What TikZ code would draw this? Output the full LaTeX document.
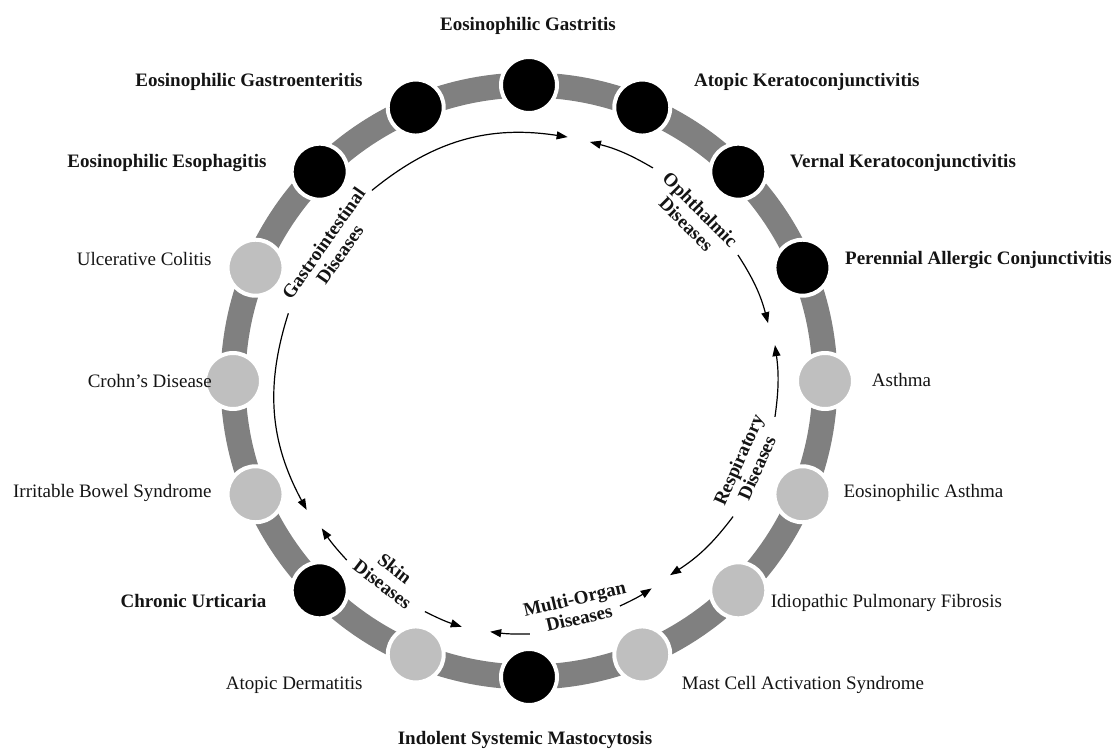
\documentclass[tikz,border=0pt]{standalone}
\usepackage{fontspec}
\setmainfont{Liberation Serif}
\usetikzlibrary{arrows.meta}
\definecolor{ringgray}{RGB}{128,128,128}
\definecolor{dotgray}{RGB}{191,191,191}
\definecolor{txt}{RGB}{20,20,20}
\begin{document}
\begin{tikzpicture}[x=1pt,y=1pt,
  dot/.style={circle,minimum size=56pt,inner sep=0pt,draw=white,line width=4pt},
  darkdot/.style={dot,fill=black},
  lightdot/.style={dot,fill=dotgray},
  lab/.style={inner sep=0pt,text height=12.5pt,text depth=0pt,text=txt,font=\fontsize{19}{20}\selectfont},
  blab/.style={lab,font=\fontsize{19}{20}\selectfont\bfseries},
  cat/.style={inner sep=0pt,align=center,text=txt,font=\fontsize{19}{20}\selectfont\bfseries},
  arr/.style={-{Triangle[length=11pt,width=8pt]},line width=1.2pt}
]
\useasboundingbox (-529,-368) rectangle (588,381);
% ring
\draw[ringgray,line width=25pt] (0,0) circle (296);
% dots
\node[darkdot]  (EG)   at (90:296) {};
\node[darkdot]  (AKC)  at (67.5:296) {};
\node[darkdot]  (VKC)  at (45:296) {};
\node[darkdot]  (PAC)  at (22.5:296) {};
\node[lightdot] (AST)  at (0:296) {};
\node[lightdot] (EA)   at (-22.5:296) {};
\node[lightdot] (IPF)  at (-45:296) {};
\node[lightdot] (MCAS) at (-67.5:296) {};
\node[darkdot]  (ISM)  at (-90:296) {};
\node[lightdot] (AD)   at (-112.5:296) {};
\node[darkdot]  (CU)   at (-135:296) {};
\node[lightdot] (IBS)  at (-157.5:296) {};
\node[lightdot] (CD)   at (180:296) {};
\node[lightdot] (UC)   at (157.5:296) {};
\node[darkdot]  (EOE)  at (135:296) {};
\node[darkdot]  (EGE)  at (112.5:296) {};
% outer labels
\node[blab,anchor=center] (lEG) at (-1,357) {Eosinophilic Gastritis};
\node[blab,anchor=west] (lAKC) at (165,301) {Atopic Keratoconjunctivitis};
\node[blab,anchor=west] (lVKC) at (261,219.3) {Vernal Keratoconjunctivitis};
\node[blab,anchor=west] (lPAC) at (316,122.7) {Perennial Allergic Conjunctivitis};
\node[lab,anchor=west] (lAST) at (342.7,1) {Asthma};
\node[lab,anchor=west] (lEA) at (314.3,-110.7) {Eosinophilic Asthma};
\node[lab,anchor=west] (lIPF) at (241.7,-220.7) {Idiopathic Pulmonary Fibrosis};
\node[lab,anchor=west] (lMCAS) at (152.7,-302.3) {Mast Cell Activation Syndrome};
\node[blab,anchor=center] (lISM) at (-4,-357.3) {Indolent Systemic Mastocytosis};
\node[lab,anchor=east] (lAD) at (-166.3,-302.3) {Atopic Dermatitis};
\node[blab,anchor=east] (lCU) at (-262.3,-220.7) {Chronic Urticaria};
\node[lab,anchor=east] (lIBS) at (-317.3,-110) {Irritable Bowel Syndrome};
\node[lab,anchor=east] (lCD) at (-317,0) {Crohn’s Disease};
\node[lab,anchor=east] (lUC) at (-317.3,121.7) {Ulcerative Colitis};
\node[blab,anchor=east] (lEOE) at (-262.3,219.3) {Eosinophilic Esophagitis};
\node[blab,anchor=east] (lEGE) at (-166.3,301) {Eosinophilic Gastroenteritis};
% category labels
\node[cat,rotate=55] (cGI) at (-197.4,132.2) {Gastrointestinal\\Diseases};
\node[cat,rotate=-45] (cOP) at (164.3,164.3) {Ophthalmic\\Diseases};
\node[cat,rotate=66] (cRE) at (218.5,-82.8) {Respiratory\\Diseases};
\node[cat,rotate=13] (cMO) at (47.7,-227.3) {Multi-Organ\\Diseases};
\node[cat,rotate=-37.5] (cSK) at (-140.2,-195.3) {Skin\\Diseases};
% arrow end points
\coordinate (g1s) at (129.5:247);
\coordinate (g1e) at (81:247);
\coordinate (g2s) at (164.3:250);
\coordinate (g2e) at (210.1:257);
\coordinate (o1s) at (59.8:246.5);
\coordinate (o1e) at (75.7:246.7);
\coordinate (o2s) at (31.1:244);
\coordinate (o2e) at (13.6:246);
\coordinate (r1s) at (-8.3:248.6);
\coordinate (r1e) at (8.3:248.6);
\coordinate (r2s) at (-33.6:245);
\coordinate (r2e) at (-54:240);
\coordinate (m1s) at (-68:242.7);
\coordinate (m1e) at (-59.4:241);
\coordinate (m2s) at (-89.8:253);
\coordinate (m2e) at (-98.8:253.7);
\coordinate (s1s) at (-114.3:253);
\coordinate (s1e) at (-105.3:254.8);
\coordinate (s2s) at (-135.5:255.5);
\coordinate (s2e) at (-144.6:254.3);
% arrows
\draw[arr] (g1s) to[bend left=24] (g1e);
\draw[arr] (g2s) to[bend right=23] (g2e);
\draw[arr] (o1s) to[bend right=8] (o1e);
\draw[arr] (o2s) to[bend left=9] (o2e);
\draw[arr] (r1s) to[bend right=8] (r1e);
\draw[arr] (r2s) to[bend left=10] (r2e);
\draw[arr] (m1s) to[bend right=4] (m1e);
\draw[arr] (m2s) to[bend left=4.5] (m2e);
\draw[arr] (s1s) to[bend right=4.5] (s1e);
\draw[arr] (s2s) to[bend left=4.5] (s2e);
\end{tikzpicture}
\end{document}
